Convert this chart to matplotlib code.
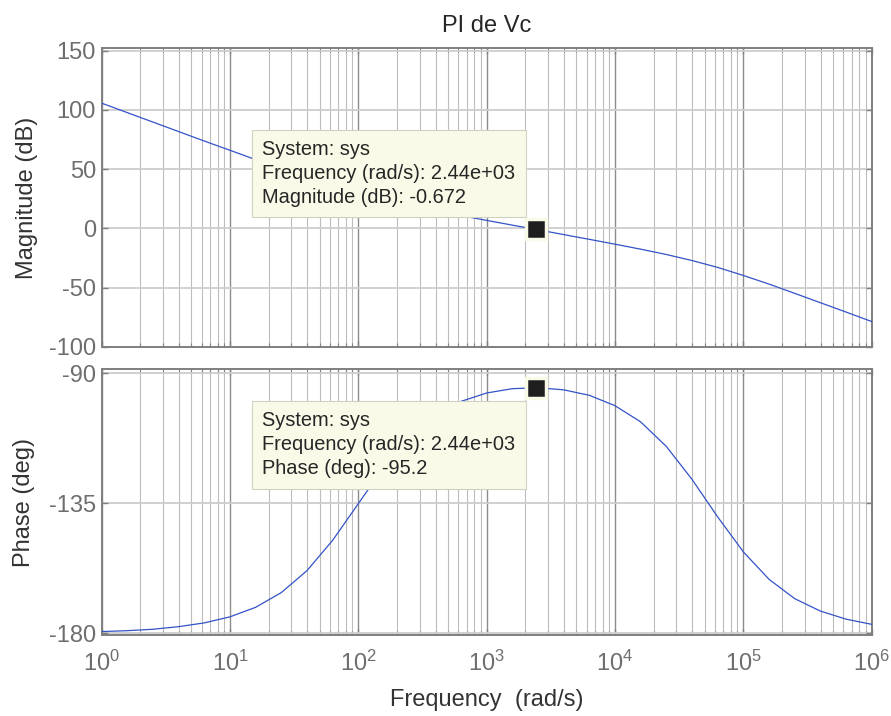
import matplotlib
matplotlib.use("Agg")
import matplotlib.pyplot as plt
from matplotlib.ticker import LogLocator, FixedLocator, NullFormatter

plt.rcParams["font.family"] = ["Liberation Sans", "DejaVu Sans"]
plt.rcParams["axes.unicode_minus"] = False
plt.rcParams["mathtext.default"] = "regular"

# Bode data (rad/s, dB, deg)
freq = [1, 1.585, 2.512, 3.981, 6.310, 10, 15.85, 25.12, 39.81, 63.10,
        100, 158.5, 251.2, 398.1, 631.0, 1000, 1585, 2512, 3981, 6310,
        1e4, 1.585e4, 2.512e4, 3.981e4, 6.310e4, 1e5, 1.585e5, 2.512e5,
        3.981e5, 6.310e5, 1e6]
mag_db = [105.7, 97.7, 89.7, 81.7, 73.7, 65.9, 58.0, 50.3, 42.8, 35.7,
          29.4, 24.0, 19.2, 14.8, 10.75, 6.7, 2.7, -1.2, -5.3, -9.3,
          -13.4, -17.6, -22.1, -27.2, -33.0, -39.8, -47.1, -54.9,
          -62.8, -70.7, -78.7]
phase_deg = [-179.4, -179.1, -178.6, -177.7, -176.4, -174.3, -171.0, -165.9,
             -158.3, -147.8, -135.1, -122.4, -112.0, -104.5, -99.7, -96.8,
             -95.3, -95.0, -95.7, -97.6, -101.2, -106.8, -115.3, -126.7,
             -139.7, -151.8, -161.3, -168.0, -172.3, -175.1, -176.9]

tip_freq = 2.44e3
tip_mag = -0.672
tip_phase = -95.2

mag_ticks = [-100, -50, 0, 50, 100, 150]
phase_ticks = [-180, -135, -90]

LINE = "#3353c8"
TICKC = "#6e6e6e"
LABC = "#333333"
SPINE = "#7f7f7f"
TIPBG = "#fafae8"


def style(ax):
    ax.set_xscale("log")
    ax.set_xlim(1, 1e6)
    ax.xaxis.set_major_locator(LogLocator(base=10, numticks=10))
    ax.xaxis.set_minor_locator(LogLocator(base=10, subs=range(2, 10), numticks=12))
    ax.xaxis.set_minor_formatter(NullFormatter())
    ax.grid(True, which="major", axis="x", color="#8c8c8c", lw=1.0)
    ax.grid(True, which="minor", axis="x", color="#bdbdbd", lw=0.8)
    ax.grid(True, which="major", axis="y", color="#cdcdcd", lw=1.3)
    ax.set_axisbelow(True)
    for s in ax.spines.values():
        s.set_color(SPINE)
        s.set_linewidth(1.4)
    ax.tick_params(which="both", direction="in", top=True, right=True,
                   colors=SPINE, labelcolor=TICKC, labelsize=17)
    ax.tick_params(which="major", length=4, width=1, pad=4)
    ax.tick_params(which="minor", length=3, width=0.8)


def datatip(ax, x, y, text, dx, dy):
    ax.plot([x], [y], marker="s", ms=14, mfc="#1e1e1e", mec=TIPBG, mew=2.5,
            zorder=6, clip_on=False)
    ax.annotate(text, xy=(x, y), xytext=(dx, dy), textcoords="offset pixels",
                ha="left", va="top", fontsize=14.4, color="#262626",
                linespacing=1.33, zorder=7,
                bbox=dict(boxstyle="square,pad=0.52", fc=TIPBG, ec="#d2d2c4", lw=0.8))


fig = plt.figure(figsize=(8.91, 7.16), dpi=100)
ax1 = fig.add_axes([0.1141, 0.5149, 0.8642, 0.4176])
ax2 = fig.add_axes([0.1141, 0.1131, 0.8642, 0.3711])

# magnitude
style(ax1)
ax1.plot(freq, mag_db, color=LINE, lw=0.9, zorder=3)
ax1.set_ylim(-100.5, 152)
ax1.yaxis.set_major_locator(FixedLocator(mag_ticks))
ax1.xaxis.set_major_formatter(NullFormatter())
ax1.set_ylabel("Magnitude (dB)", fontsize=17, color=LABC)
ax1.yaxis.set_label_coords(-0.083, 0.5)
ax1.set_title("PI de Vc", fontsize=17, color="#262626", pad=12)
datatip(ax1, tip_freq, tip_mag,
        "System: sys\nFrequency (rad/s): 2.44e+03\nMagnitude (dB): -0.672",
        -274, 89)

# phase
style(ax2)
ax2.plot(freq, phase_deg, color=LINE, lw=0.9, zorder=3)
ax2.set_ylim(-180.6, -88.6)
ax2.yaxis.set_major_locator(FixedLocator(phase_ticks))
ax2.tick_params(axis="x", which="major", pad=11)
ax2.set_ylabel("Phase (deg)", fontsize=17, color=LABC)
ax2.yaxis.set_label_coords(-0.087, 0.5)
ax2.set_xlabel("Frequency  (rad/s)", fontsize=17, color=LABC, labelpad=10)
datatip(ax2, tip_freq, tip_phase,
        "System: sys\nFrequency (rad/s): 2.44e+03\nPhase (deg): -95.2",
        -274, -23)

fig.savefig("out.png", dpi=100)
